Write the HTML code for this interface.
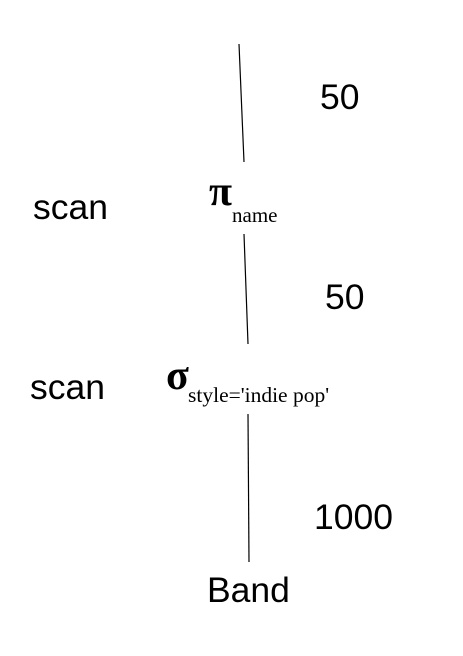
<!DOCTYPE html>
<html><head><style>body{margin:0;background:#fff}svg{display:block}</style></head>
<body>
<svg width="463" height="656" viewBox="0 0 463 656" xmlns="http://www.w3.org/2000/svg">
<g stroke="#000" stroke-width="1.2" fill="none">
<line x1="239" y1="44" x2="244" y2="162"/>
<line x1="244" y1="234" x2="248" y2="344"/>
<line x1="248" y1="414" x2="249" y2="562"/>
</g>
<g font-family="Liberation Sans, sans-serif" font-size="35.5" fill="#000">
<text x="320" y="109">50</text>
<text x="33" y="219">scan</text>
<text x="325" y="309">50</text>
<text x="30" y="399">scan</text>
<text x="314" y="529">1000</text>
<text x="207" y="602">Band</text>
</g>
<g font-family="Liberation Serif, serif" fill="#000">
<text x="209" y="205" font-size="42" font-weight="bold">π</text>
<text x="232" y="222" font-size="21">name</text>
<text x="166" y="389" font-size="42" font-weight="bold">σ</text>
<text x="188" y="402" font-size="21.5">style='indie pop'</text>
</g>
</svg>
</body></html>
